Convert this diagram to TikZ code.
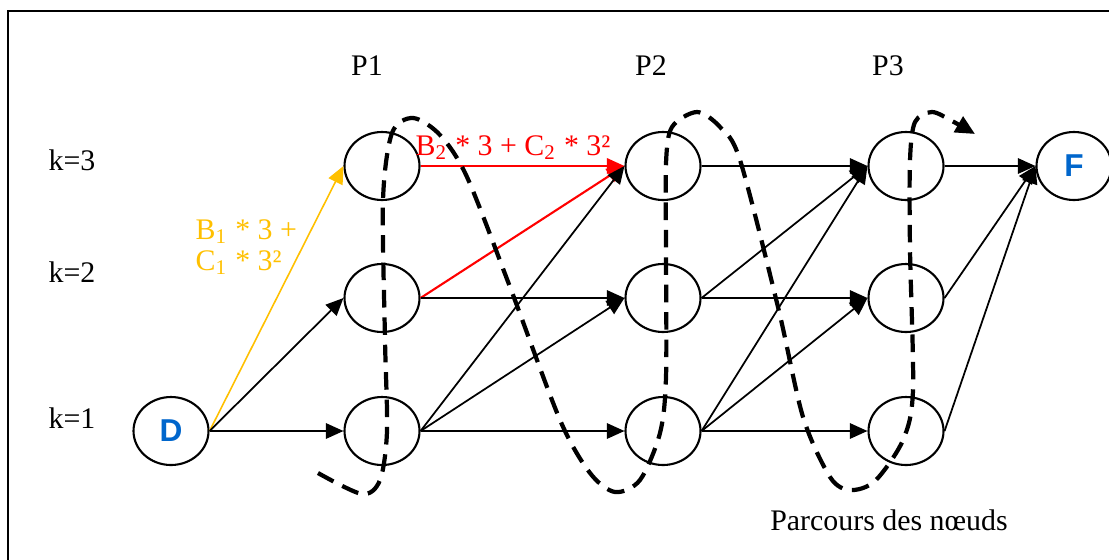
\documentclass[tikz,border=0pt]{standalone}
\usepackage{fontspec}
\setmainfont{Liberation Serif}
\newfontfamily\lettreSans{Liberation Sans}
\usetikzlibrary{arrows.meta,shapes.geometric}
\definecolor{jauneArc}{HTML}{FFC000}
\definecolor{rougeArc}{HTML}{FF0000}
\definecolor{bleuLettre}{HTML}{0066CC}

\tikzset{
  noeud/.style={draw,ellipse,line width=0.6pt,minimum width=0.75cm,minimum height=0.68cm,inner sep=0pt},
  lettre/.style={font=\lettreSans\bfseries\fontsize{9}{10}\selectfont,text=bleuLettre},
  fleche/.style={-{Triangle[length=5pt,width=4.4pt]},line width=0.5pt},
  parcours/.style={line width=1.2pt,dash pattern=on 5pt off 2.8pt,-{Triangle[length=5.5pt,width=5pt]}},
  texte/.style={font=\fontsize{8.5}{8.8}\selectfont,inner sep=0pt}
}

\begin{document}
\begin{tikzpicture}[scale=1.0]
\useasboundingbox (0,0) rectangle (11.09,5.59);
\draw[line width=0.6pt] (0.08,-0.5) rectangle (11.6,5.48);

% etiquettes
\node[texte] (k3) at (0.72,3.99) {k=3};
\node[texte] (k2) at (0.72,2.87) {k=2};
\node[texte] (k1) at (0.72,1.41) {k=1};
\node[texte] (P1) at (3.67,4.93) {P1};
\node[texte] (P2) at (6.51,4.93) {P2};
\node[texte] (P3) at (8.88,4.93) {P3};

% noeuds
\node[noeud,lettre] (D) at (1.71,1.28) {D};
\node[noeud] (p1k3) at (3.82,3.93) {};
\node[noeud] (p1k2) at (3.82,2.61) {};
\node[noeud] (p1k1) at (3.82,1.28) {};
\node[noeud] (p2k3) at (6.63,3.93) {};
\node[noeud] (p2k2) at (6.63,2.61) {};
\node[noeud] (p2k1) at (6.63,1.28) {};
\node[noeud] (p3k3) at (9.06,3.93) {};
\node[noeud] (p3k2) at (9.06,2.61) {};
\node[noeud] (p3k1) at (9.06,1.28) {};
\node[noeud,lettre] (F) at (10.74,3.93) {F};

% arcs
\draw[fleche,jauneArc,line width=0.45pt] (D.east) -- (p1k3.west);
\draw[fleche] (D.east) -- (p1k2.west);
\draw[fleche] (D.east) -- (p1k1.west);
\draw[fleche,rougeArc,line width=0.6pt] (p1k3.east) -- (p2k3.west);
\draw[fleche,rougeArc,line width=0.6pt] (p1k2.east) -- (p2k3.west);
\draw[fleche] (p1k2.east) -- (p2k2.west);
\draw[fleche] (p1k1.east) -- (p2k3.west);
\draw[fleche] (p1k1.east) -- (p2k2.west);
\draw[fleche] (p1k1.east) -- (p2k1.west);
\draw[fleche] (p2k3.east) -- (p3k3.west);
\draw[fleche] (p2k2.east) -- (p3k3.west);
\draw[fleche] (p2k2.east) -- (p3k2.west);
\draw[fleche] (p2k1.east) -- (p3k3.west);
\draw[fleche] (p2k1.east) -- (p3k2.west);
\draw[fleche] (p2k1.east) -- (p3k1.west);
\draw[fleche] (p3k3.east) -- (F.west);
\draw[fleche] (p3k2.east) -- (F.west);
\draw[fleche] (p3k1.east) -- (F.west);

\node[texte,jauneArc,align=left,anchor=west] (cout1) at (1.95,3.12)
  {B\textsubscript{1} * 3 +\\C\textsubscript{1} * 3²};
\node[texte,rougeArc] (cout2) at (5.13,4.11) {B\textsubscript{2} * 3 + C\textsubscript{2} * 3²};

% parcours des noeuds
\draw[parcours] plot[smooth,tension=0.5] coordinates {
  (3.18,0.86) (3.62,0.65) (3.80,0.79) (3.87,1.28) (3.85,2.19) (3.83,3.59)
  (3.92,4.26) (4.13,4.41) (4.40,4.24) (4.67,3.82) (5.10,2.72) (5.60,1.39)
  (5.90,0.86) (6.15,0.67) (6.40,0.79) (6.60,1.26) (6.66,1.82) (6.66,3.09)
  (6.66,3.96) (6.72,4.32) (6.97,4.47) (7.20,4.32) (7.40,3.99) (7.78,2.52)
  (8.03,1.42) (8.30,0.82) (8.50,0.69) (8.75,0.78) (9.03,1.19) (9.13,1.69)
  (9.10,3.09) (9.10,3.99) (9.15,4.37) (9.32,4.47) (9.52,4.38) (9.75,4.25)};
\node[texte] (legende) at (8.89,0.39) {Parcours des nœuds};
\end{tikzpicture}
\end{document}
